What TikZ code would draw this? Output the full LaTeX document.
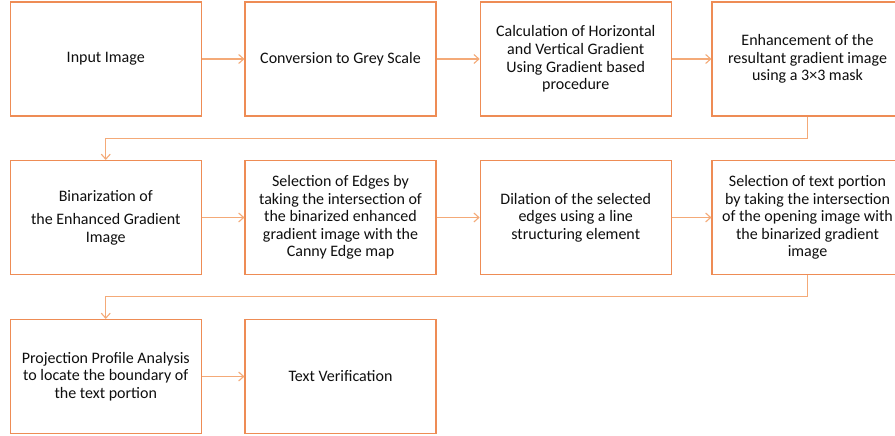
\documentclass[tikz,border=0pt]{standalone}
\usepackage{fontspec}
\setmainfont{Carlito}
\usetikzlibrary{arrows.meta}
\definecolor{boxc}{RGB}{238,140,85}
\definecolor{connc}{RGB}{244,170,120}
\definecolor{txtc}{RGB}{15,15,15}
\tikzset{
  stepbox/.style={draw=boxc, line width=1.1pt, minimum width=191pt, minimum height=114pt,
    inner sep=0pt, align=center, text=txtc, font=\fontsize{16}{17.6}\selectfont},
  conn/.style={draw=connc, line width=1.1pt, -{Straight Barb[length=5pt,width=9pt]}}
}
\begin{document}
\begin{tikzpicture}[x=1pt,y=-1pt]
\useasboundingbox (0,0) rectangle (895,436);
\clip (0,0) rectangle (895,436);
\fill[white] (0,0) rectangle (895,436);
% row 1
\node[stepbox] (a1) at (105.75,59) {Input Image};
\node[stepbox] (a2) at (340.5,59) {Conversion to Grey Scale};
\node[stepbox] (a3) at (575.75,59) {Calculation of Horizontal\\and Vertical Gradient\\Using Gradient based\\procedure};
\node[stepbox] (a4) at (807.5,59) {Enhancement of the\\resultant gradient image\\using a 3×3 mask};
% row 2
\node[stepbox] (b1) at (105.75,217.5) {Binarization of\\[6pt]the Enhanced Gradient\\Image};
\node[stepbox] (b2) at (340.5,217.5) {Selection of Edges by\\taking the intersection of\\the binarized enhanced\\gradient image with the\\Canny Edge map};
\node[stepbox] (b3) at (575.75,217.5) {Dilation of the selected\\edges using a line\\structuring element};
\node[stepbox] (b4) at (807.5,217.5) {Selection of text portion\\by taking the intersection\\of the opening image with\\the binarized gradient\\image};
% row 3
\node[stepbox] (c1) at (105.75,376.5) {Projection Profile Analysis\\to locate the boundary of\\the text portion};
\node[stepbox] (c2) at (340.5,376.5) {Text Verification};
% connectors
\draw[conn] (a1.east) -- (a2.west);
\draw[conn] (a2.east) -- (a3.west);
\draw[conn] (a3.east) -- (a4.west);
\draw[conn] (a4.south) -- ++(0,22.3) -| (b1.north);
\draw[conn] (b1.east) -- (b2.west);
\draw[conn] (b2.east) -- (b3.west);
\draw[conn] (b3.east) -- (b4.west);
\draw[conn] (b4.south) -- ++(0,21.7) -| (c1.north);
\draw[conn] (c1.east) -- (c2.west);
\end{tikzpicture}
\end{document}
